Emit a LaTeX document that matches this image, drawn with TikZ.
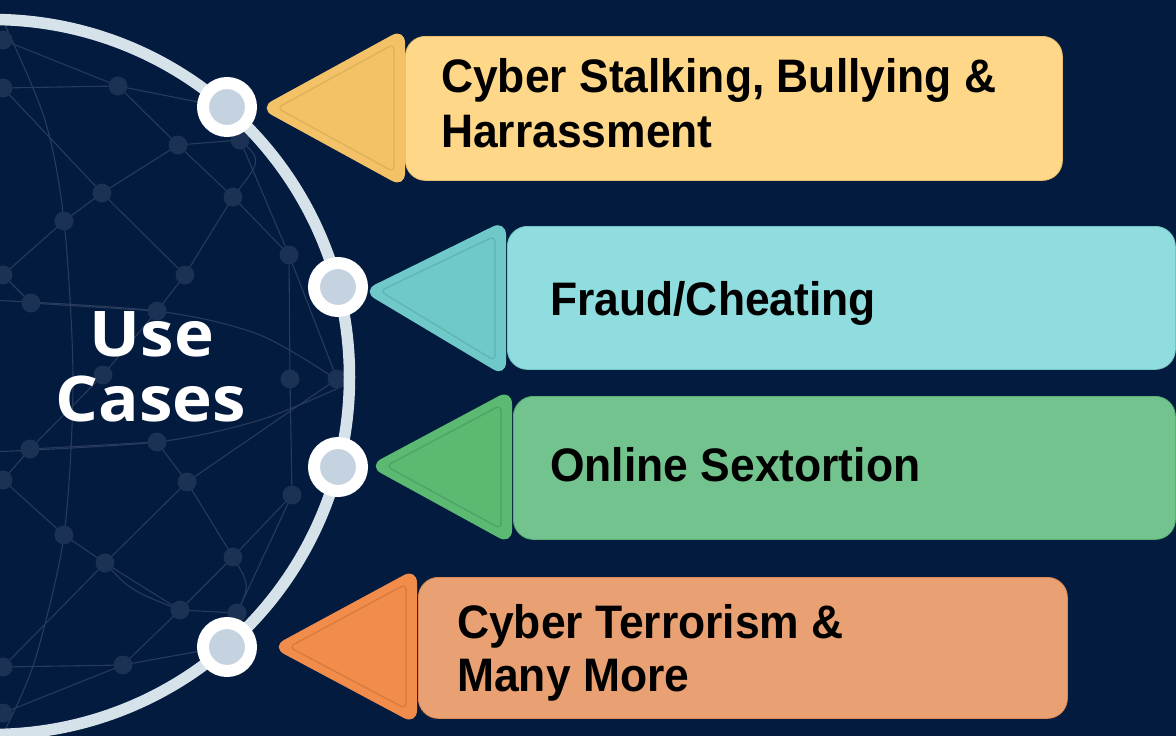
\documentclass[tikz,border=0pt]{standalone}
\usepackage{fontspec}
\setmainfont{Liberation Sans}
\newfontfamily\boxfont[FakeStretch=0.945]{Liberation Sans}
\newfontfamily\titlefont[FakeStretch=1.07]{Open Sans}
\definecolor{bgC}{HTML}{021B3E}
\definecolor{ringC}{HTML}{D5E2EA}
\definecolor{hubC}{HTML}{C5D2DF}
\definecolor{meshC}{HTML}{283B5C}
\definecolor{dotC}{HTML}{1C3254}
\definecolor{yelBox}{HTML}{FFD789}
\definecolor{yelTri}{HTML}{F3C267}
\definecolor{yelLn}{HTML}{DDB059}
\definecolor{cyaBox}{HTML}{8FDDDF}
\definecolor{cyaTri}{HTML}{6FC9C8}
\definecolor{cyaLn}{HTML}{5EB5B4}
\definecolor{grnBox}{HTML}{72C38D}
\definecolor{grnTri}{HTML}{5BB972}
\definecolor{grnLn}{HTML}{4CA462}
\definecolor{orgBox}{HTML}{E9A072}
\definecolor{orgTri}{HTML}{F28C4A}
\definecolor{orgLn}{HTML}{D67A3F}
\tikzset{
  meshline/.style={draw=meshC, line width=1.1pt},
  meshdot/.style={circle, fill=dotC, minimum size=19pt, inner sep=0pt},
  ringline/.style={draw=ringC, line width=11.5pt},
  hub/.style={circle, draw=white, line width=12pt, fill=hubC, minimum size=48pt, inner sep=0pt},
  card/.style={rounded corners=20pt, anchor=north west, inner sep=0pt, line width=0.8pt},
  tri/.style={rounded corners=15pt},
  triline/.style={line width=1.3pt, rounded corners=6pt},
  lbl/.style={font=\boxfont\bfseries\fontsize{47}{55}\selectfont, text=black, anchor=base west, inner sep=0pt},
  ttl/.style={font=\titlefont\bfseries\fontsize{63}{65}\selectfont, text=white, anchor=base, inner sep=0pt}
}
\begin{document}
\begin{tikzpicture}[x=1pt,y=-1pt]
\fill[bgC] (0,0) rectangle (1176,736);
\useasboundingbox (0,0) rectangle (1176,736);

% mesh inside the globe
\begin{scope}
\clip (-8,377) circle (352);
\foreach \n/\p in {a/{3,40}, b/{3,88}, c/{118,86}, d/{178,145}, e/{240,140}, f/{102,193},
  g/{233,197}, h/{64,221}, i/{289,255}, j/{3,275}, k/{185,275}, l/{31,303}, m/{157,311},
  n/{103,375}, o/{290,379}, p/{337,379}, q/{30,449}, r/{157,442}, s/{3,480}, t/{187,482},
  u/{292,495}, v/{64,535}, w/{105,563}, x/{233,557}, y/{180,610}, z/{237,613},
  A/{123,665}, B/{3,667}, C/{3,713}}
  \coordinate (m\n) at (\p);
\foreach \u/\v in {a/c, b/c, c/d, b/f, d/f, d/g, d/e, e/i, g/i, g/k, f/h, f/k, h/j, j/l,
  l/m, k/m, i/o, i/p, o/u, p/t, q/r, r/t, t/w, t/x, s/v, v/w, w/y, y/z, w/B, x/u, x/y,
  y/A, A/B, A/C, u/z, q/s, q/n, m/n}
  \draw[meshline] (m\u) -- (m\v);
\draw[meshline] (mc) -- (228,108);
\draw[meshline] (mA) -- (228,646);
\draw[meshline] (me) .. controls (262,160) .. (mg);
\draw[meshline] (mx) .. controls (250,585) .. (mz);
\draw[meshline] plot[smooth] coordinates {(5,25) (45,120) (64,221) (73,380) (64,535) (35,660) (5,730)};
\draw[meshline] plot[smooth] coordinates {(-10,300) (157,311) (260,335) (345,385)};
\draw[meshline] plot[smooth] coordinates {(-10,452) (157,442) (260,420) (345,385)};
\draw[meshline] (mw) .. controls (130,590) .. (my);
\foreach \n in {a,b,c,d,e,f,g,h,i,j,k,l,m,n,o,p,q,r,s,t,u,v,w,x,y,z,A,B,C}
  \node[meshdot] (d\n) at (m\n) {};
\end{scope}

% globe outline
\draw[ringline] (-8,377) circle (357.5);

% cards
\node[card, fill=yelBox, draw=yelLn!60!yelBox, minimum width=657pt, minimum height=144pt] (c1) at (405,36) {};
\node[card, fill=cyaBox, draw=cyaLn!60!cyaBox, minimum width=668pt, minimum height=143pt] (c2) at (507,226) {};
\node[card, fill=grnBox, draw=grnLn!60!grnBox, minimum width=662pt, minimum height=143pt] (c3) at (513,396) {};
\node[card, fill=orgBox, draw=orgLn!60!orgBox, minimum width=649pt, minimum height=141pt] (c4) at (418,577) {};

% pointer triangles (start mid-base so every corner is rounded)
\fill[yelTri, tri] (405,108) -- (405,28) -- (259,108) -- (405,188) -- cycle;
\draw[yelLn, triline] (394,108) -- (394,44) -- (277,108) -- (394,172) -- cycle;
\fill[cyaTri, tri] (506,298) -- (506,220) -- (362,291) -- (506,377) -- cycle;
\draw[cyaLn, triline] (495,298) -- (495,236) -- (380,291) -- (495,361) -- cycle;
\fill[grnTri, tri] (512,467) -- (512,389) -- (368,466) -- (512,545) -- cycle;
\draw[grnLn, triline] (501,467) -- (501,405) -- (386,466) -- (501,529) -- cycle;
\fill[orgTri, tri] (417,647) -- (417,568) -- (271,647) -- (417,725) -- cycle;
\draw[orgLn, triline] (406,647) -- (406,584) -- (289,647) -- (406,709) -- cycle;

% hubs on the globe
\node[hub] (n1) at (227,107) {};
\node[hub] (n2) at (338,287) {};
\node[hub] (n3) at (338,467) {};
\node[hub] (n4) at (227,647) {};

% labels
\node[lbl] (t1a) at (441,92) {Cyber Stalking, Bullying \&};
\node[lbl] (t1b) at (441,147) {Harrassment};
\node[lbl] (t2) at (550,315) {Fraud/Cheating};
\node[lbl] (t3) at (550,481) {Online Sextortion};
\node[lbl] (t4a) at (457,638) {Cyber Terrorism \&};
\node[lbl] (t4b) at (457,691) {Many More};

\node[ttl] (u1) at (152,356) {Use};
\node[ttl] (u2) at (151,421) {Cases};
\end{tikzpicture}
\end{document}
